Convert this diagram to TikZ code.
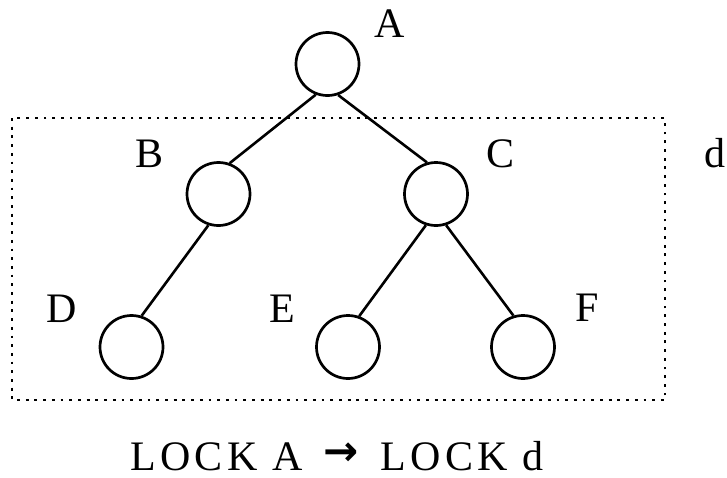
\documentclass[tikz,border=0pt]{standalone}
\usepackage{fontspec}
\setmainfont{Liberation Serif}
\newfontfamily\arrowfont{DejaVu Sans}
\begin{document}
\begin{tikzpicture}[x=1pt,y=-1pt,
  treenode/.style={circle,draw=black,line width=2.7pt,minimum size=63pt,inner sep=0pt},
  edge/.style={draw=black,line width=2.6pt},
  lbl/.style={anchor=base,inner sep=0pt,font=\fontsize{42}{42}\selectfont},
  lockbox/.style={draw=black,line width=2.6pt,dash pattern=on 2.8pt off 5.9pt}]
\useasboundingbox (0,0) rectangle (727,477);
\fill[white] (0,0) rectangle (727,477);
% nodes
\node[treenode] (A) at (327.5,64) {};
\node[treenode] (B) at (218.5,194) {};
\node[treenode] (C) at (436,194) {};
\node[treenode] (D) at (131.5,347) {};
\node[treenode] (E) at (348,347) {};
\node[treenode] (F) at (523,347) {};
% edges
\draw[edge] (A.249) -- (B.70);
\draw[edge] (A.289) -- (C.106);
\draw[edge] (B.252) -- (D.72);
\draw[edge] (C.252) -- (E.70);
\draw[edge] (C.288) -- (F.107);
% dotted box
\coordinate (boxNW) at (12,118);
\coordinate (boxSE) at (665,400);
\draw[lockbox] (boxNW) rectangle (boxSE);
% labels
\node[lbl] (la) at (390,37) {A};
\node[lbl] (lb) at (150,167) {B};
\node[lbl] (lc) at (500,167) {C};
\node[lbl] (ld) at (715,167) {d};
\node[lbl] (ldd) at (62,322) {D};
\node[lbl] (le) at (282,322) {E};
\node[lbl] (lf) at (587,321) {F};
\node[lbl,text depth=0pt] (lock) at (337,470) {\addfontfeature{LetterSpace=10}LOCK A\hspace{6pt} \raisebox{5pt}{\arrowfont\bfseries →}\hspace{8pt} LOCK d};
\end{tikzpicture}
\end{document}
